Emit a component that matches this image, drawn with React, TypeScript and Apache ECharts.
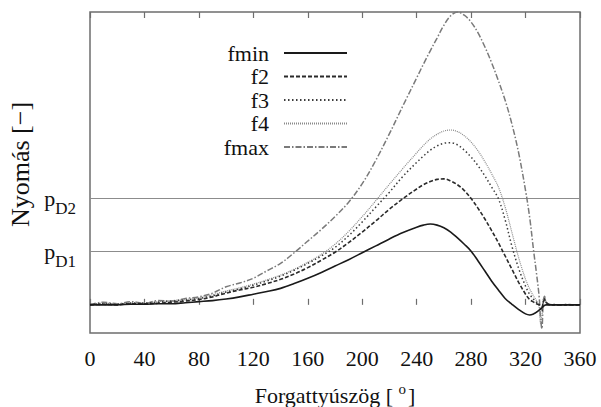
import React, { useEffect, useRef } from 'react';
import * as echarts from 'echarts';

const angles = [0, 10, 20, 30, 40, 50, 60, 70, 80, 90,
  100, 110, 120, 130, 140, 150, 160, 170, 180, 190,
  200, 210, 220, 230, 240, 245, 250, 255, 260, 265,
  270, 275, 280, 285, 290, 295, 300, 305, 310, 315,
  320, 323, 326, 328, 330, 331, 332, 333, 334, 335,
  337, 340, 345, 350, 355, 360];

const fmin = [0, 0, 0, 0.01, 0.01, 0.02, 0.02, 0.04, 0.06, 0.08,
  0.11, 0.15, 0.2, 0.25, 0.31, 0.4, 0.5, 0.61, 0.73, 0.85,
  0.98, 1.11, 1.24, 1.36, 1.46, 1.5, 1.52, 1.5, 1.45, 1.37,
  1.26, 1.14, 1.01, 0.83, 0.64, 0.45, 0.28, 0.12, 0.01, -0.09,
  -0.17, -0.19, -0.17, -0.14, -0.1, -0.08, -0.06, -0.03, -0.01, 0,
  0, 0, 0, 0, 0, 0];

const f2 = [0, 0.01, 0, 0.02, 0.02, 0.03, 0.05, 0.07, 0.1, 0.15,
  0.22, 0.28, 0.33, 0.4, 0.48, 0.58, 0.7, 0.84, 0.99, 1.17,
  1.37, 1.58, 1.8, 2.0, 2.18, 2.26, 2.32, 2.36, 2.37, 2.33,
  2.26, 2.15, 2.0, 1.82, 1.62, 1.4, 1.17, 0.92, 0.67, 0.42,
  0.2, 0.1, 0.05, 0.02, 0, -0.02, -0.04, 0.04, 0.1, 0.05,
  0.01, 0, 0, 0, 0, 0];

const f3 = [0.01, 0.02, 0.01, 0.03, 0.03, 0.05, 0.07, 0.09, 0.12, 0.17,
  0.24, 0.3, 0.37, 0.45, 0.54, 0.65, 0.78, 0.92, 1.08, 1.3,
  1.56, 1.84, 2.12, 2.42, 2.68, 2.8, 2.91, 2.99, 3.04, 3.05,
  3.01, 2.91, 2.78, 2.62, 2.43, 2.22, 2.0, 1.6, 1.1, 0.68,
  0.35, 0.2, 0.1, 0.05, 0.01, -0.06, -0.12, 0.05, 0.12, 0.05,
  0.01, 0, 0, 0, 0, 0];

const f4 = [0.01, 0.03, 0.02, 0.04, 0.04, 0.06, 0.08, 0.1, 0.13, 0.19,
  0.26, 0.32, 0.39, 0.47, 0.56, 0.67, 0.8, 0.95, 1.14, 1.38,
  1.66, 1.96, 2.27, 2.57, 2.86, 3.0, 3.12, 3.21, 3.27, 3.29,
  3.26, 3.18, 3.06, 2.9, 2.7, 2.47, 2.22, 1.84, 1.36, 0.88,
  0.48, 0.3, 0.16, 0.08, -0.05, -0.35, -0.2, 0.1, 0.15, 0.05,
  0.01, 0, 0, 0, 0, 0];

const fmax = [0, 0.05, 0.02, 0.06, 0.03, 0.08, 0.07, 0.12, 0.15, 0.22,
  0.34, 0.41, 0.5, 0.64, 0.78, 0.98, 1.2, 1.42, 1.66, 1.93,
  2.28, 2.72, 3.22, 3.75, 4.27, 4.53, 4.78, 5.02, 5.26, 5.44,
  5.51, 5.45, 5.32, 5.12, 4.86, 4.56, 4.22, 3.85, 3.4, 2.85,
  2.15, 1.65, 1.0, 0.6, 0.15, -0.25, -0.45, 0.05, 0.16, 0.05,
  0, 0.01, -0.01, 0.01, 0, 0];

const seriesNames = ['fmin', 'f2', 'f3', 'f4', 'fmax'];
const refLevels = [1, 2];
const refSubscripts = ['D1', 'D2'];
const xTitle = 'Forgattyúszög [ ';
const yTitle = 'Nyomás [−]';

const FONT = "'Liberation Serif', 'Times New Roman', serif";

export default function App() {
  const ref = useRef<HTMLDivElement>(null);
  useEffect(() => {
    if (!ref.current) return;
    const chart = echarts.init(ref.current, null, { renderer: 'svg' });
    const lineStyles: any[] = [
      { color: '#1a1a1a', width: 1.6, type: 'solid' },
      { color: '#2a2a2a', width: 1.6, type: [4, 2] },
      { color: '#3c3c3c', width: 1.5, type: [1.5, 2.5] },
      { color: '#8a8a8a', width: 1.2, type: [1, 1] },
      { color: '#7a7a7a', width: 1.5, type: [6, 2, 1.5, 2] },
    ];
    const allData = [fmin, f2, f3, f4, fmax];
    const series = seriesNames.map((name, si) => {
      const s: any = {
        name,
        type: 'line',
        data: angles.map((a, i) => [a, allData[si][i]]),
        symbol: 'none',
        showSymbol: false,
        smooth: 0.35,
        lineStyle: lineStyles[si],
        itemStyle: { color: lineStyles[si].color },
        z: 10 - si,
      };
      if (si === 0) {
        s.markLine = {
          silent: true,
          symbol: 'none',
          label: { show: false },
          lineStyle: { color: '#8c8c8c', width: 1.2, type: 'solid' },
          data: refLevels.map((v) => ({ yAxis: v })),
        };
      }
      return s;
    });

    chart.setOption({
      animation: false,
      textStyle: { fontFamily: FONT },
      grid: {
        left: 90, right: 21, top: 12, bottom: 74,
        outerBoundsMode: 'none',
        containLabel: false,
        show: true, borderColor: '#6e6e6e', borderWidth: 1.5,
      },
      legend: {
        data: seriesNames,
        orient: 'vertical',
        right: 253,
        top: 42,
        align: 'right',
        itemWidth: 63,
        itemHeight: 14,
        itemGap: 1.5,
        padding: 0,
        itemStyle: { opacity: 0 },
        textStyle: { fontSize: 22, color: '#111', fontFamily: FONT, padding: [0, 10, 0, 0] },
      },
      xAxis: [
        {
          type: 'value', min: 0, max: 360, interval: 40, position: 'bottom',
          axisLine: { show: false },
          axisTick: { inside: true, length: 6, lineStyle: { color: '#6e6e6e', width: 1.2 } },
          splitLine: { show: false },
          axisLabel: { fontSize: 22, color: '#111', margin: 14, fontFamily: FONT },
          name: '{t|' + xTitle + '}{o|o}{t|]}',
          nameLocation: 'middle',
          nameGap: 48,
          nameTextStyle: {
            fontFamily: FONT,
            rich: {
              t: { fontSize: 22, color: '#111', fontFamily: FONT },
              o: { fontSize: 15, color: '#111', fontFamily: FONT, padding: [0, 2, 14, 0] },
            },
          },
        },
        {
          type: 'value', min: 0, max: 360, interval: 40, position: 'top',
          axisLine: { show: false },
          axisTick: { inside: true, length: 6, lineStyle: { color: '#6e6e6e', width: 1.2 } },
          splitLine: { show: false },
          axisLabel: { show: false },
        },
      ],
      yAxis: {
        type: 'value', min: -0.53, max: 5.51,
        axisLine: { show: false },
        axisTick: { show: false },
        splitLine: { show: false },
        axisLabel: {
          customValues: refLevels,
          margin: 14,
          fontFamily: FONT,
          formatter: (v: number) => {
            const idx = refLevels.indexOf(v);
            return idx >= 0 ? '{p|p}{s|' + refSubscripts[idx] + '}' : '';
          },
          rich: {
            p: { fontSize: 22, color: '#111', fontFamily: FONT },
            s: { fontSize: 17, color: '#111', fontFamily: FONT, padding: [19, 0, 0, 0] },
          },
        },
        name: yTitle,
        nameLocation: 'middle',
        nameGap: 55,
        nameTextStyle: { fontSize: 26, color: '#111', fontFamily: FONT, padding: [0, 0, 0, 16] },
      },
      series,
    });
    return () => chart.dispose();
  }, []);
  return <div ref={ref} style={{ position: 'absolute', left: 0, top: 0, width: 601, height: 407 }} />;
}
